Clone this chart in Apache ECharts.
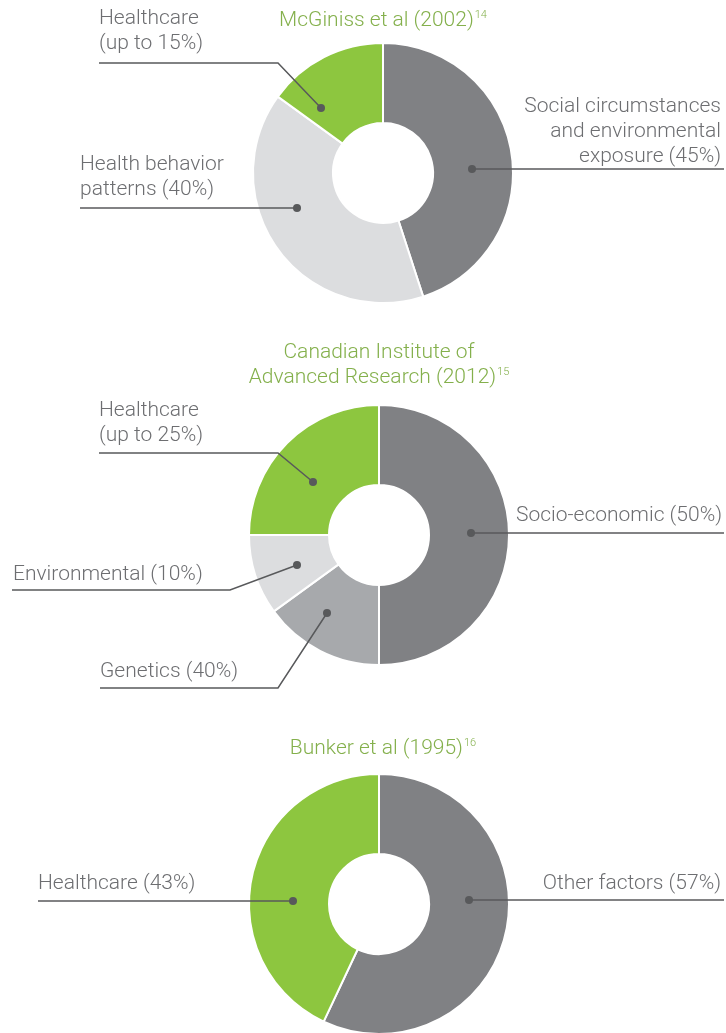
<!DOCTYPE html>
<html>
<head>
<meta charset="utf-8">
<script src="https://cdn.jsdelivr.net/npm/echarts@6/dist/echarts.min.js"></script>
<style>
  html, body { margin: 0; padding: 0; background: #fff; }
  #main { width: 726px; height: 1033px; }
</style>
</head>
<body>
<div id="main"></div>
<script>
// data
const pie1Names = ['Social circumstances\nand environmental\nexposure (45%)', 'Health behavior\npatterns (40%)', 'Healthcare\n(up to 15%)'];
const pie1Values = [45, 40, 15];
const pie2Names = ['Socio-economic (50%)', 'Genetics (40%)', 'Environmental (10%)', 'Healthcare\n(up to 25%)'];
const pie2Values = [50, 15, 10, 25];
const pie3Names = ['Other factors (57%)', 'Healthcare (43%)'];
const pie3Values = [57, 43];
const titles = [
  ['McGiniss et al (2002)', '14'],
  ['Canadian Institute of\nAdvanced Research (2012)', '15'],
  ['Bunker et al (1995)', '16']
];

// styling / layout
const GREEN = '#8dc63f';
const DARK = '#808184';
const MID = '#a7a9ac';
const LIGHT = '#dcdddf';
const TEXT = '#6d6e71';
const LINE = '#58595b';
const TITLE = '#84b04c';
const FONT = 'Roboto, "DejaVu Sans", sans-serif';
const FS = 21;
const LH = 25;

const pieColors = [[DARK, LIGHT, GREEN], [DARK, MID, LIGHT, GREEN], [DARK, GREEN]];
const centers = [[383, 173], [379, 535], [379, 904]];
const titlePos = [[383, 8], [379, 340], [383, 736]];

// leader geometry per slice: dot, bend, end of line; text anchor x and centre y of last text line
const notes = [
  [
    { dot: [472, 169], bend: [472, 169], end: [724, 169], tx: 721, ty: 157, align: 'right' },
    { dot: [297, 208], bend: [297, 208], end: [80, 208], tx: 80, ty: 190, align: 'left' },
    { dot: [321, 108], bend: [278, 63], end: [99, 63], tx: 99, ty: 44, align: 'left' }
  ],
  [
    { dot: [471, 533], bend: [471, 533], end: [724, 533], tx: 722, ty: 516, align: 'right' },
    { dot: [327, 613], bend: [278, 688], end: [100, 688], tx: 100, ty: 672, align: 'left' },
    { dot: [297, 565], bend: [230, 590], end: [12, 590], tx: 13, ty: 575, align: 'left' },
    { dot: [313, 482], bend: [278, 453], end: [99, 453], tx: 99, ty: 436, align: 'left' }
  ],
  [
    { dot: [469, 900], bend: [469, 900], end: [724, 900], tx: 721, ty: 884, align: 'right' },
    { dot: [293, 901], bend: [293, 901], end: [38, 901], tx: 38, ty: 884, align: 'left' }
  ]
];

function basePie(idx, names, values) {
  return {
    type: 'pie',
    z: 2,
    center: centers[idx],
    radius: [50, 130],
    startAngle: 90,
    clockwise: true,
    silent: true,
    itemStyle: { borderColor: '#fff', borderWidth: 2 },
    label: { show: false },
    labelLine: { show: false },
    data: names.map((name, i) => ({
      name: name,
      value: values[i],
      itemStyle: { color: pieColors[idx][i] }
    }))
  };
}

// transparent copy on top, carries the labels and leader lines
function labelPie(idx, names, values) {
  return {
    type: 'pie',
    z: 3,
    center: centers[idx],
    radius: [50, 130],
    startAngle: 90,
    clockwise: true,
    silent: true,
    avoidLabelOverlap: false,
    itemStyle: { color: 'rgba(0,0,0,0)', borderWidth: 0 },
    label: {
      show: true,
      position: 'outside',
      formatter: '{b}',
      color: TEXT,
      fontFamily: FONT,
      fontWeight: 300,
      fontSize: FS,
      lineHeight: LH
    },
    labelLine: { show: true, lineStyle: { color: LINE, width: 1.5 } },
    labelLayout: function (p) {
      const n = notes[idx][p.dataIndex];
      return {
        x: n.tx,
        y: n.ty + LH / 2,
        align: n.align,
        verticalAlign: 'bottom',
        labelLinePoints: [n.dot, n.bend, n.end]
      };
    },
    data: names.map((name, i) => ({ name: name, value: values[i] }))
  };
}

const chart = echarts.init(document.getElementById('main'));

const dots = [];
notes.forEach(group => group.forEach(n => {
  dots.push({
    type: 'circle',
    shape: { cx: n.dot[0], cy: n.dot[1], r: 4 },
    style: { fill: LINE },
    z: 100
  });
}));

chart.setOption({
  animation: false,
  title: titles.map((t, i) => ({
    text: '{t|' + t[0].split('\n').join('}\n{t|') + '}{s|' + t[1] + '}',
    left: titlePos[i][0],
    top: titlePos[i][1],
    textAlign: 'center',
    padding: 0,
    textStyle: {
      rich: {
        t: { color: TITLE, fontFamily: FONT, fontWeight: 300, fontSize: FS, lineHeight: LH },
        s: { color: TITLE, fontFamily: FONT, fontWeight: 300, fontSize: 11, lineHeight: LH, padding: [0, 0, 11, 1] }
      }
    }
  })),
  series: [
    basePie(0, pie1Names, pie1Values),
    basePie(1, pie2Names, pie2Values),
    basePie(2, pie3Names, pie3Values),
    labelPie(0, pie1Names, pie1Values),
    labelPie(1, pie2Names, pie2Values),
    labelPie(2, pie3Names, pie3Values)
  ],
  graphic: dots
});
</script>
</body>
</html>
